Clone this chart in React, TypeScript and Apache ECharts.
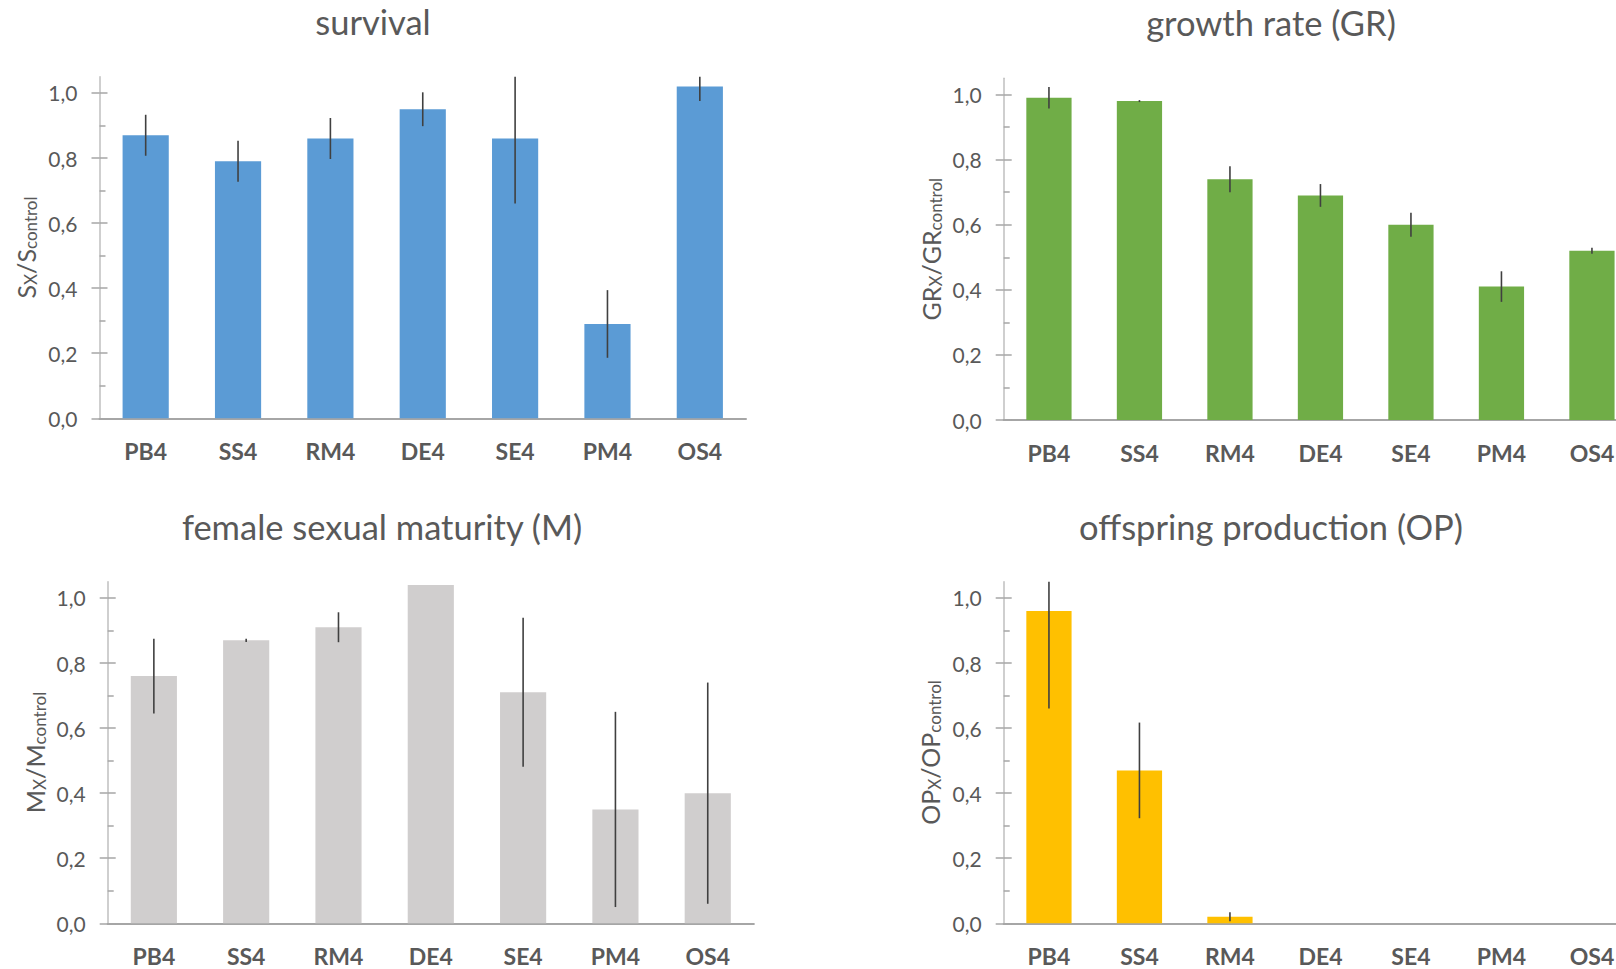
import React, { useEffect, useRef } from 'react';
import * as echarts from 'echarts';

const categories = ['PB4', 'SS4', 'RM4', 'DE4', 'SE4', 'PM4', 'OS4'];
const yTickValues = [0, 0.2, 0.4, 0.6, 0.8, 1.0];
const yMinorTickValues = [0.1, 0.3, 0.5, 0.7, 0.9];
const yMax = 1.05;

const survivalValues = [0.87, 0.79, 0.86, 0.95, 0.86, 0.29, 1.02];
const survivalErrors = [0.063, 0.063, 0.063, 0.052, 0.2, 0.104, 0.045];
const growthValues = [0.99, 0.98, 0.74, 0.69, 0.6, 0.41, 0.52];
const growthErrors = [0.033, 0.003, 0.04, 0.035, 0.037, 0.047, 0.009];
const maturityValues = [0.76, 0.87, 0.91, 1.04, 0.71, 0.35, 0.4];
const maturityErrors = [0.115, 0.005, 0.046, 0, 0.229, 0.3, 0.34];
const offspringValues = [0.96, 0.47, 0.02, 0, 0, 0, 0];
const offspringErrors = [0.3, 0.147, 0.014, 0, 0, 0, 0];

const FONT = 'Lato, "Open Sans", sans-serif';
const TEXT = '#595959';

const panels = [
  { title: 'survival', abbr: 'S', color: '#5B9BD5', values: survivalValues, errors: survivalErrors,
    grid: { left: 99.5, top: 76.7, width: 646.5, height: 341.6 }, titleX: 373, titleY: 21, nameGap: 61 },
  { title: 'growth rate (GR)', abbr: 'GR', color: '#70AD47', values: growthValues, errors: growthErrors,
    grid: { left: 1003.7, top: 78.3, width: 633.5, height: 341.7 }, titleX: 1271, titleY: 22, nameGap: 60 },
  { title: 'female sexual maturity (M)', abbr: 'M', color: '#D0CECE', values: maturityValues, errors: maturityErrors,
    grid: { left: 107.7, top: 581.7, width: 646.2, height: 341.6 }, titleX: 382, titleY: 526, nameGap: 60 },
  { title: 'offspring production (OP)', abbr: 'OP', color: '#FFC000', values: offspringValues, errors: offspringErrors,
    grid: { left: 1003.7, top: 581.7, width: 633.5, height: 341.6 }, titleX: 1271, titleY: 526, nameGap: 61 },
];

export default function App() {
  const ref = useRef<HTMLDivElement>(null);
  useEffect(() => {
    if (!ref.current) return;
    const chart = echarts.init(ref.current, undefined, { renderer: 'svg' });
    const grids: any[] = [];
    const xAxes: any[] = [];
    const yAxes: any[] = [];
    const series: any[] = [];
    const graphics: any[] = [];
    panels.forEach((p, i) => {
      grids.push({ ...p.grid, containLabel: false });
      xAxes.push({
        type: 'category', gridIndex: i, data: categories,
        axisLine: { lineStyle: { color: '#A6A6A6', width: 2 } },
        axisTick: { show: false },
        axisLabel: { interval: 0, fontSize: 23, fontWeight: 'bold', color: TEXT, margin: 21, fontFamily: FONT },
        splitLine: { show: false },
      });
      yAxes.push({
        type: 'value', gridIndex: i, min: 0, max: yMax, position: 'left',
        axisLine: { show: true, lineStyle: { color: '#BFBFBF', width: 1.5 } },
        axisTick: { show: true, inside: false, length: 8, customValues: yTickValues, lineStyle: { color: '#A6A6A6', width: 1.5 } },
        axisLabel: {
          customValues: yTickValues, margin: 22, fontSize: 21, color: TEXT, fontFamily: FONT,
          formatter: (v: number) => v.toFixed(1).replace('.', ','),
        },
        splitLine: { show: false },
        name: `{m|${p.abbr}}{s|X}{m|/${p.abbr}}{s|control}`,
        nameLocation: 'middle', nameGap: p.nameGap, nameRotate: 90,
        nameTextStyle: {
          color: TEXT, fontFamily: FONT,
          rich: {
            m: { fontSize: 25, lineHeight: 25, color: TEXT, fontFamily: FONT },
            s: { fontSize: 17, lineHeight: 12, verticalAlign: 'bottom', color: TEXT, fontFamily: FONT },
          },
        },
      });
      yAxes.push({
        type: 'value', gridIndex: i, min: 0, max: yMax, position: 'left',
        axisLine: { show: false }, axisLabel: { show: false }, splitLine: { show: false },
        axisTick: { show: true, inside: true, length: 8, customValues: yTickValues, lineStyle: { color: '#A6A6A6', width: 1.5 } },
      });
      yAxes.push({
        type: 'value', gridIndex: i, min: 0, max: yMax, position: 'left',
        axisLine: { show: false }, axisLabel: { show: false }, splitLine: { show: false },
        axisTick: { show: true, inside: true, length: 6, customValues: yMinorTickValues, lineStyle: { color: '#A6A6A6', width: 1.5 } },
      });
      series.push({
        type: 'bar', name: p.title, xAxisIndex: i, yAxisIndex: i * 3, data: p.values,
        barCategoryGap: '50%', itemStyle: { color: p.color }, z: 2,
      });
      series.push({
        type: 'custom', xAxisIndex: i, yAxisIndex: i * 3, z: 5,
        data: p.values.map((v, j) => [j, v, p.errors[j]]),
        renderItem: (params: any, api: any) => {
          const x = api.value(0);
          const v = api.value(1);
          const e = api.value(2);
          if (!e) return null;
          const hi = Math.min(v + e, yMax);
          const lo = Math.max(v - e, 0);
          const p1 = api.coord([x, hi]);
          const p2 = api.coord([x, lo]);
          return {
            type: 'line',
            shape: { x1: p1[0], y1: p1[1], x2: p2[0], y2: p2[1] },
            style: { stroke: '#404040', lineWidth: 1.6 },
          };
        },
      });
      graphics.push({
        type: 'text', x: p.titleX, y: p.titleY,
        style: { text: p.title, fontSize: 34.5, fill: TEXT, fontFamily: FONT, textAlign: 'center', textVerticalAlign: 'middle' },
      });
    });
    chart.setOption({
      animation: false,
      backgroundColor: '#FFFFFF',
      grid: grids,
      xAxis: xAxes,
      yAxis: yAxes,
      series,
      graphic: graphics,
    });
    return () => chart.dispose();
  }, []);
  return (
    <div style={{ position: 'fixed', left: 0, top: 0, width: 1616, height: 969, overflow: 'hidden', background: '#FFFFFF' }}>
      <div ref={ref} style={{ position: 'absolute', left: 0, top: 0, width: 1680, height: 969 }} />
    </div>
  );
}
